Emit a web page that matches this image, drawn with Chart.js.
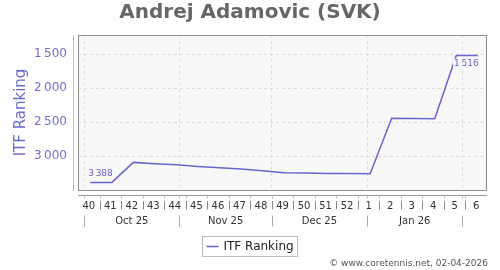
<!DOCTYPE html>
<html>
<head>
<meta charset="utf-8">
<script src="https://cdn.jsdelivr.net/npm/chart.js@4"></script>
<style>
  body { margin: 0; background: #fff; }
  canvas { display: block; }
</style>
</head>
<body>
<canvas id="chart" width="500" height="270"></canvas>
<script>
// weekly ITF ranking, one value per ISO week (week 40 of 2025 .. week 6 of 2026)
const weeks = ['40', '41', '42', '43', '44', '45', '46', '47', '48', '49', '50', '51', '52', '1', '2', '3', '4', '5', '6'];
const ranking = [3388, 3388, 3093, 3112, 3127, 3152, 3171, 3190, 3215, 3245, 3250, 3255, 3257, 3260, 2441, 2445, 2451, 1516, 1516];
const months = ['Oct 25', 'Nov 25', 'Dec 25', 'Jan 26'];
const monthStarts = [2, 33, 63, 94, 125]; // days after Mon 29 Sep 2025
const yTicks = [1500, 2000, 2500, 3000];

const FONT = "'DejaVu Sans', sans-serif";
const LINE = '#6666cc';
const PLOT_BG = '#f8f8f8';

const fmt = v => String(v).replace(/\B(?=(\d{3})+(?!\d))/g, '\u2009');

// x position of a week = mid week, counted in days
const points = ranking.map((v, i) => ({ x: i * 7 + 4, y: v }));

const decor = {
    id: 'decor',
    beforeDraw(chart) {
        const { ctx, chartArea: a } = chart;
        ctx.save();
        ctx.fillStyle = '#fff';
        ctx.fillRect(0, 0, chart.width, chart.height);
        ctx.fillStyle = PLOT_BG;
        ctx.fillRect(a.left, a.top, a.right - a.left, a.bottom - a.top);
        ctx.restore();
    },
    afterDatasetsDraw(chart) {
        const { ctx, chartArea: a } = chart;
        const xs = chart.scales.x;
        const meta = chart.getDatasetMeta(0);
        ctx.save();

        // min / max labels
        const maxV = Math.max(...ranking), minV = Math.min(...ranking);
        const iMax = ranking.lastIndexOf(maxV), iMin = ranking.lastIndexOf(minV);
        ctx.font = '9px ' + FONT;
        ctx.textAlign = 'right';
        ctx.textBaseline = 'middle';
        [[iMax, -9, maxV], [iMin, 8, minV]].forEach(([i, dy, v]) => {
            const p = meta.data[i];
            const t = fmt(v);
            const w = ctx.measureText(t).width;
            ctx.fillStyle = PLOT_BG;
            ctx.fillRect(p.x + 1 - w - 1, p.y + dy - 5, w + 2, 10);
            ctx.fillStyle = LINE;
            ctx.fillText(t, p.x + 1, p.y + dy);
        });

        // plot frame
        ctx.strokeStyle = '#8c8c8c';
        ctx.lineWidth = 1;
        ctx.strokeRect(a.left + 0.5, a.top + 0.5, a.right - a.left - 1, a.bottom - a.top);

        // y axis line
        ctx.strokeStyle = '#b8b8e4';
        ctx.beginPath();
        ctx.moveTo(a.left - 4.5, a.top);
        ctx.lineTo(a.left - 4.5, a.bottom + 1);
        ctx.stroke();

        // x axis line + ticks
        const axY = a.bottom + 5.5;
        ctx.strokeStyle = '#999';
        ctx.beginPath();
        ctx.moveTo(a.left, axY);
        ctx.lineTo(a.right, axY);
        ctx.stroke();
        ctx.strokeStyle = '#bbb';
        ctx.beginPath();
        for (let k = 1; k < weeks.length; k++) {
            const x = Math.round(xs.getPixelForValue(k * 7)) + 0.5;
            ctx.moveTo(x, axY); ctx.lineTo(x, axY + 3);
        }
        monthStarts.forEach(d => {
            const x = Math.round(xs.getPixelForValue(d)) + 0.5;
            ctx.moveTo(x, axY); ctx.lineTo(x, axY + 3);
        });
        ctx.stroke();

        // week labels and separators
        ctx.font = '10px ' + FONT;
        ctx.textAlign = 'center';
        ctx.fillStyle = '#333';
        weeks.forEach((w, i) => {
            ctx.fillText(w, xs.getPixelForValue(i * 7 + 3.5), axY + 10.5);
        });
        ctx.strokeStyle = '#888';
        ctx.beginPath();
        for (let k = 1; k < weeks.length; k++) {
            const x = Math.round(xs.getPixelForValue(k * 7)) + 0.5;
            ctx.moveTo(x, axY + 5.5); ctx.lineTo(x, axY + 14);
        }
        ctx.stroke();

        // month labels and separators
        months.forEach((m, i) => {
            const c = (xs.getPixelForValue(monthStarts[i]) + xs.getPixelForValue(monthStarts[i + 1])) / 2;
            ctx.fillText(m, c, axY + 26);
        });
        ctx.strokeStyle = '#aaa';
        ctx.beginPath();
        monthStarts.forEach(d => {
            const x = Math.round(xs.getPixelForValue(d)) + 0.5;
            ctx.moveTo(x, axY + 20); ctx.lineTo(x, axY + 31);
        });
        ctx.stroke();

        // legend
        const ds = chart.data.datasets[0];
        ctx.font = '12px ' + FONT;
        const tw = ctx.measureText(ds.label).width;
        const bw = 4 + 12 + 5 + tw + 4;
        const bx = Math.round(250 - bw / 2) + 0.5, by = 236.5;
        ctx.fillStyle = '#fff';
        ctx.fillRect(bx, by, bw, 20);
        ctx.strokeStyle = '#bbb';
        ctx.strokeRect(bx, by, bw, 20);
        ctx.strokeStyle = ds.borderColor;
        ctx.lineWidth = 1.5;
        ctx.beginPath();
        ctx.moveTo(bx + 4, by + 10); ctx.lineTo(bx + 16, by + 10);
        ctx.stroke();
        ctx.fillStyle = '#222';
        ctx.textAlign = 'left';
        ctx.fillText(ds.label, bx + 21, by + 10.5);

        // credit
        ctx.font = '9px ' + FONT;
        ctx.fillStyle = '#555';
        ctx.textAlign = 'right';
        ctx.fillText('\u00a9 www.coretennis.net, 02-04-2026', 488, 264);

        ctx.restore();
    }
};

new Chart(document.getElementById('chart'), {
    type: 'line',
    data: {
        datasets: [{
            label: 'ITF Ranking',
            data: points,
            borderColor: LINE,
            borderWidth: 1.5,
            pointRadius: 0,
            tension: 0,
            fill: false
        }]
    },
    options: {
        responsive: false,
        animation: false,
        devicePixelRatio: 1,
        layout: { padding: 0 },
        plugins: {
            legend: { display: false },
            tooltip: { enabled: false },
            title: {
                display: true,
                text: 'Andrej Adamovic (SVK)',
                color: '#666',
                font: { family: FONT, size: 20, weight: 'bold' },
                padding: { top: 1, bottom: 10 }
            }
        },
        scales: {
            x: {
                type: 'linear',
                min: 0,
                max: 133,
                afterBuildTicks: s => { s.ticks = monthStarts.map(v => ({ value: v })); },
                afterFit: s => { s.height = 80; },
                ticks: { display: false },
                grid: { color: '#dcdcdc', drawTicks: false },
                border: { display: false, dash: [3, 3] }
            },
            y: {
                reverse: true,
                min: 1215,
                max: 3500,
                afterBuildTicks: s => { s.ticks = yTicks.map(v => ({ value: v })); },
                afterFit: s => { s.width = 78; },
                ticks: {
                    color: '#7070cc',
                    font: { family: FONT, size: 12 },
                    padding: 11,
                    callback: v => fmt(v)
                },
                grid: { color: '#dcdcdc', drawTicks: false },
                border: { display: false, dash: [3, 3] },
                title: {
                    display: true,
                    text: 'ITF Ranking',
                    color: '#6a6acd',
                    font: { family: FONT, size: 15 },
                    padding: { top: 12, bottom: 0 }
                }
            },
            // empty right-hand margin, keeps the title centred on the full width
            yRight: {
                position: 'right',
                display: true,
                afterFit: s => { s.width = 13; },
                ticks: { display: false },
                grid: { display: false, drawTicks: false },
                border: { display: false }
            }
        }
    },
    plugins: [decor]
});
</script>
</body>
</html>
